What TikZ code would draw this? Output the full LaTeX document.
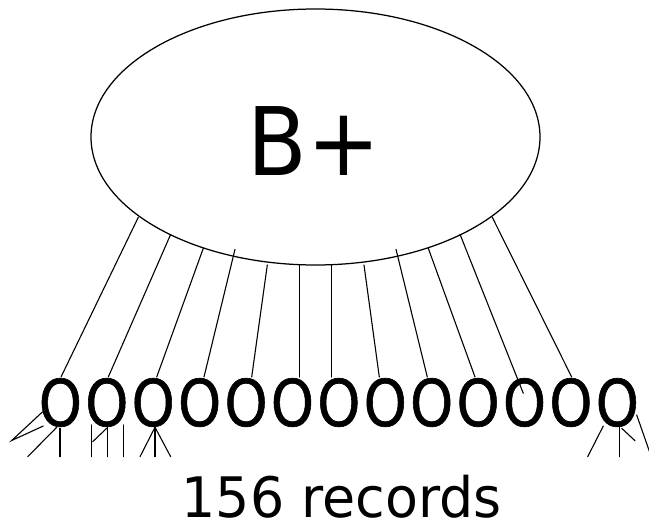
\documentclass[tikz,border=0pt]{standalone}
\usepackage{fontspec}
\setmainfont{DejaVu Sans}
\newfontfamily\leaffont[FakeBold=1]{DejaVu Sans}
\usetikzlibrary{shapes.geometric}
\begin{document}
\begin{tikzpicture}[x=1pt,y=-1pt,
  lbl/.style={inner sep=0pt, outer sep=0pt, anchor=base},
  wire/.style={line width=1.1pt, line cap=round},
  ofont/.style={font=\leaffont\fontsize{64.5}{64.5}\selectfont, xscale=0.85}]
\useasboundingbox (0,0) rectangle (649,530);
% root ellipse
\node[draw, ellipse, line width=1.25pt, minimum width=449pt, minimum height=256pt, inner sep=0pt] (bp) at (315.5,137) {};
\node[lbl, font=\fontsize{94.6}{94.6}\selectfont, xscale=0.92] (bplabel) at (314,175) {B+};
% leaf row
\foreach \i in {1,...,13} {
  \pgfmathsetmacro\ox{60.4+46.41*(\i-1)}
  \node[lbl, ofont] (O\i) at (\ox,426) {O};
}
% connectors from root to leaves
\foreach \i/\tx/\ty/\bx/\by in {
  1/138.3/217.3/61/377,
  2/170.7/234.3/108.3/377,
  3/203.3/248.3/156.7/377,
  4/235/249.3/204/377,
  5/267.3/265/251.7/377,
  6/299.3/265/299.3/377,
  7/331.7/265/331.7/377,
  8/364/265/379.3/377,
  9/396/249.3/427.3/377,
  10/428.3/248.3/475/377,
  11/460/234.3/523.3/393.3,
  12/492.3/217.3/571.7/377} {
  \coordinate (t\i) at (\tx,\ty);
  \coordinate (b\i) at (\bx,\by);
  \draw[wire] (t\i) -- (b\i);
}
% record stubs below the leaves
\draw[wire] (42.7,411.7) -- (11.7,440.5) -- (43.3,426);
\draw[wire] (56.7,427.3) -- (27.7,456.7);
\draw[wire] (60,428.3) -- (60,456.7);
\draw[wire] (91.7,425) -- (91.7,456.7);
\draw[wire] (92.7,441.7) -- (106.7,428.3);
\draw[wire] (107.3,427) -- (107.3,456.7);
\draw[wire] (123.3,425) -- (123.3,456.7);
\draw[wire] (140,456.7) -- (155,427.3) -- (170.7,456.7);
\draw[wire] (155,427.3) -- (155,456.7);
\draw[wire] (603.3,426) -- (587.7,456.7);
\draw[wire] (619.3,426.7) -- (619.3,456.7);
\draw[wire] (621.7,428.3) -- (635,440.7);
\draw[wire] (636.7,415) -- (650,453);
% caption
\node[lbl, font=\fontsize{55.8}{55.8}\selectfont, xscale=0.965] (rec) at (341.5,517) {156 records};
\end{tikzpicture}
\end{document}
